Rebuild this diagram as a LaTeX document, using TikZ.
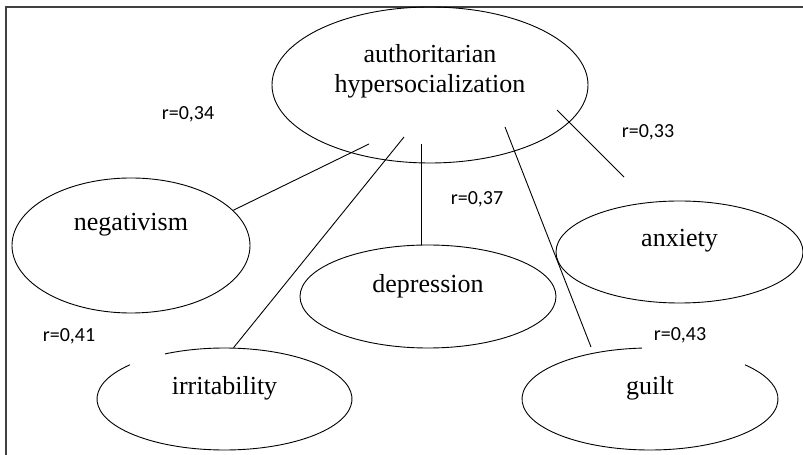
\documentclass[tikz,border=0pt]{standalone}
\usepackage{fontspec}
\setmainfont{Liberation Serif}
\newfontfamily\corrfont{Carlito}
\usetikzlibrary{shapes.geometric}

\tikzset{
  bubble/.style={ellipse, inner sep=0pt, line width=0.9pt, text height=0pt,
    font=\fontsize{26}{30}\selectfont},
  corr/.style={font=\corrfont\fontsize{20}{24}\selectfont},
  link/.style={line width=0.9pt},
  frame/.style={line width=1.8pt, black!75}
}

\begin{document}
\begin{tikzpicture}[x=1pt, y=1pt]

\useasboundingbox (0,0) rectangle (803,455);
\draw[frame] (6,0) |- (803,448);

\node[bubble, draw, align=center, minimum width=316pt, minimum height=156pt,
  text height=16pt, text depth=0pt] (auth) at (430,370) {authoritarian\\hypersocialization};
\node[bubble, draw, minimum width=238pt, minimum height=135pt,
  text depth=29pt] (neg) at (131,209.5) {negativism};
\node[bubble, draw, minimum width=256pt, minimum height=103pt,
  text depth=7pt] (dep) at (428,158.5) {depression};
\node[bubble, draw, minimum width=247pt, minimum height=102pt,
  text depth=10pt] (anx) at (679.5,203) {anxiety};
\node[bubble, minimum width=255pt, minimum height=102pt,
  text depth=8pt] (irr) at (224.5,56) {irritability};
\node[bubble, minimum width=256pt, minimum height=102pt,
  text depth=8pt] (guilt) at (650,56) {guilt};

% open outlines
\draw[link] ([shift={(137.8:127.5pt and 51pt)}]irr.center)
  arc[start angle=137.8, end angle=477.8, x radius=127.5pt, y radius=51pt];
\draw[link] ([shift={(93.6:128pt and 51pt)}]guilt.center)
  arc[start angle=93.6, end angle=402.1, x radius=128pt, y radius=51pt];

\coordinate (hN) at ([shift={(-61,-59)}]auth.center);
\coordinate (hI) at ([shift={(-26,-52)}]auth.center);
\coordinate (hD) at ([shift={(-9,-59)}]auth.center);
\coordinate (hG) at ([shift={(75,-42)}]auth.center);
\coordinate (hA) at ([shift={(127,-25)}]auth.center);
\coordinate (gTop) at ([shift={(-59,52)}]guilt.center);
\coordinate (aTop) at ([shift={(-55.5,75)}]anx.center);

\draw[link] (neg.19) -- (hN);
\draw[link] (irr.80) -- (hI);
\draw[link] (hD) -- (hD |- dep.north);
\draw[link] (gTop) -- (hG);
\draw[link] (hA) -- (aTop);

\node[corr] (r34) at (188,341) {r=0,34};
\node[corr] (r33) at (648,323) {r=0,33};
\node[corr] (r37) at (477,256) {r=0,37};
\node[corr] (r41) at (69,119) {r=0,41};
\node[corr] (r43) at (680,120) {r=0,43};

\end{tikzpicture}
\end{document}
